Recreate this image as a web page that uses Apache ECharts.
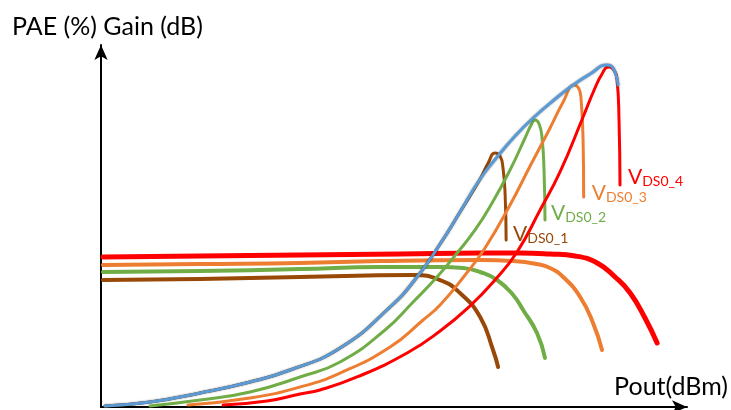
<!DOCTYPE html>
<html><head><meta charset="utf-8">
<script src="https://cdn.jsdelivr.net/npm/echarts@6/dist/echarts.min.js"></script>
<style>html,body{margin:0;padding:0;background:#fff}#c{width:731px;height:410px}</style>
</head><body><div id="c"></div>
<script>
// Pout (dBm, arbitrary scale 0..30) vs value (0..100)
const gainRed = [[0.10,41.44],[5.07,41.71],[10.19,41.99],[15.31,42.27],[19.41,42.54],[21.45,42.54],[22.99,42.27],[24.27,41.71],[25.40,39.78],[26.32,35.91],[27.09,31.49],[27.85,24.59],[28.47,17.68]];
const gainOrange = [[0.10,39.23],[5.07,39.50],[10.19,39.78],[14.29,40.33],[19.41,40.61],[21.10,40.33],[22.32,39.50],[22.99,38.40],[23.66,35.91],[24.53,30.39],[25.19,23.20],[25.65,15.75]];
const gainGreen = [[0.10,37.29],[5.07,37.57],[10.19,38.12],[14.29,38.67],[17.36,38.67],[18.54,38.40],[19.41,37.29],[20.28,35.08],[21.10,30.94],[21.61,26.80],[22.32,20.44],[22.73,13.54]];
const gainBrown = [[0.10,35.08],[5.07,35.36],[10.19,35.91],[15.98,36.46],[17.36,35.08],[18.38,31.49],[19.41,24.86],[20.07,15.75],[20.33,11.05]];
const paeEnvelope = [[0.20,0.28],[2.51,1.38],[5.07,3.87],[7.63,6.91],[9.68,10.22],[12.24,16.30],[14.80,27.62],[16.18,35.91],[17.36,45.03],[18.38,53.87],[19.41,62.98],[20.28,69.06],[21.20,74.86],[22.12,79.83],[23.25,85.08],[24.17,88.95],[25.04,91.99],[25.91,94.48],[26.22,93.65],[26.47,88.95]];
const paeBrown = [[0.20,0.28],[2.51,1.38],[5.07,3.87],[7.63,6.91],[9.68,10.22],[12.24,16.30],[14.80,27.62],[16.18,35.91],[17.36,45.03],[18.38,53.87],[19.41,62.98],[19.82,67.40],[20.17,70.17],[20.43,69.34],[20.58,66.02],[20.69,58.56],[20.74,46.13]];
const paeGreen = [[2.51,0.28],[5.07,1.93],[7.63,4.14],[10.19,8.29],[12.24,12.43],[14.54,21.27],[15.98,29.01],[17.20,35.91],[18.23,42.54],[19.15,48.90],[20.02,56.35],[20.94,65.47],[21.71,74.31],[22.02,77.90],[22.22,79.28],[22.43,78.18],[22.58,74.31],[22.68,65.47],[22.73,51.66]];
const paeOrange = [[4.45,0.55],[7.63,2.49],[10.19,5.52],[12.24,9.39],[14.80,16.57],[16.49,24.03],[17.36,28.18],[18.64,36.46],[19.66,43.92],[20.94,55.80],[21.97,66.57],[22.99,77.07],[23.66,84.25],[24.22,88.95],[24.47,87.85],[24.58,84.81],[24.68,73.76],[24.71,58.01]];
const paeRed = [[6.25,0.55],[8.50,1.66],[10.19,3.59],[11.21,4.70],[13.11,8.29],[15.67,14.92],[17.36,20.99],[18.89,27.90],[20.17,35.08],[21.30,42.82],[22.48,54.42],[23.50,64.92],[24.68,80.11],[25.29,88.12],[25.65,91.99],[25.96,93.92],[26.22,93.37],[26.42,90.33],[26.52,79.28],[26.57,61.33]];
const labelNames = ['DS0_1','DS0_2','DS0_3','DS0_4'];
const yAxisTitle = 'PAE (%) Gain (dB)';
const xAxisTitle = 'Pout(dBm)';

const RED='#FF0000', ORANGE='#ED7D31', GREEN='#70AD47', BROWN='#984807', BLUE='#5B9BD5';
const FONT='Lato';

function line(data,color,width,z,extra){
  return Object.assign({type:'line',data:data,showSymbol:false,smooth:0.5,
    lineStyle:{color:color,width:width,cap:'round',join:'round'},z:z,silent:true,animation:false},extra||{});
}
function endLab(name,color,off){
  return {endLabel:{show:true,distance:0,offset:off,formatter:'{v|V}{s|'+name+'}',
    rich:{v:{fontFamily:FONT,fontSize:21,color:color},s:{fontFamily:FONT,fontSize:14,color:color,padding:[8,0,0,0]}}}};
}
const chart = echarts.init(document.getElementById('c'),null,{renderer:'canvas'});
chart.setOption({
  animation:false,
  grid:{left:101,top:45,right:44,bottom:3,containLabel:false},
  xAxis:{type:'value',min:0,max:30,name:xAxisTitle,nameLocation:'end',nameGap:41,
    nameTextStyle:{fontFamily:FONT,fontSize:25,color:'#000',align:'right',verticalAlign:'bottom',padding:[0,0,8,0]},
    axisLine:{show:true,symbol:['none','arrow'],symbolSize:[10,15],lineStyle:{color:'#000',width:2}},
    axisTick:{show:false},axisLabel:{show:false},splitLine:{show:false}},
  yAxis:{type:'value',min:0,max:100,name:yAxisTitle,nameLocation:'end',nameGap:6,
    nameTextStyle:{fontFamily:FONT,fontSize:25,color:'#000',align:'center',padding:[0,0,0,13]},
    axisLine:{show:true,symbol:['none','arrow'],symbolSize:[10,15],lineStyle:{color:'#000',width:2}},
    axisTick:{show:false},axisLabel:{show:false},splitLine:{show:false}},
  series:[
    line(gainBrown,BROWN,4,2),
    line(gainGreen,GREEN,4,2),
    line(gainOrange,ORANGE,4,2),
    line(gainRed,RED,5,2),
    line(paeBrown,BROWN,3,3,endLab(labelNames[0],BROWN,[7,-6])),
    line(paeGreen,GREEN,3,3,endLab(labelNames[1],GREEN,[6,-7])),
    line(paeOrange,ORANGE,3,3,endLab(labelNames[2],ORANGE,[8,-4])),
    line(paeRed,RED,3,3,endLab(labelNames[3],RED,[8,-8])),
    line(paeEnvelope,BLUE,3,4,{lineStyle:{color:BLUE,width:3,cap:'round',shadowColor:'rgba(0,0,0,0.45)',shadowBlur:2}})
  ]
});
</script></body></html>
